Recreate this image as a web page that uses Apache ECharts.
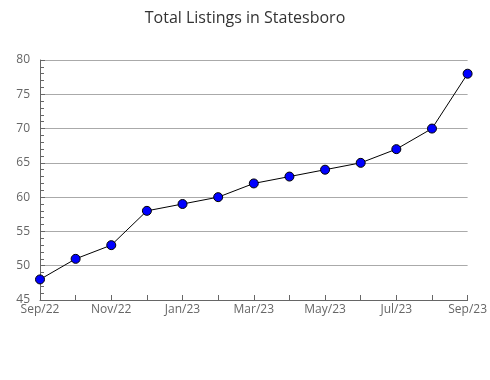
<!DOCTYPE html>
<html><head><meta charset="utf-8">
<script src="https://cdn.jsdelivr.net/npm/echarts@6/dist/echarts.min.js"></script>
<style>html,body{margin:0;padding:0;background:#fff}#c{width:490px;height:380px}</style>
</head><body><div id="c"></div>
<script>
const categories = ['Sep/22','Oct/22','Nov/22','Dec/22','Jan/23','Feb/23','Mar/23','Apr/23','May/23','Jun/23','Jul/23','Aug/23','Sep/23'];
const listings = [48, 51, 53, 58, 59, 60, 62, 63, 64, 65, 67, 70, 78];
const chart = echarts.init(document.getElementById('c'));
chart.setOption({
  animation: false,
  title: { text: 'Total Listings in Statesboro', left: 'center', top: 5,
    textStyle: { fontFamily: 'Open Sans', fontSize: 16, fontWeight: 'normal', color: '#333' } },
  grid: { left: 40, right: 19, top: 60, bottom: 80, containLabel: false },
  xAxis: {
    type: 'category', data: categories, boundaryGap: false,
    axisLine: { lineStyle: { color: '#666', width: 1 } },
    axisTick: { show: true, inside: true, length: 5, interval: 0, lineStyle: { color: '#666' } },
    axisLabel: { interval: 1, color: '#666', fontFamily: 'Open Sans', fontSize: 12, margin: 4 },
    splitLine: { show: false }
  },
  yAxis: {
    type: 'value', min: 45, max: 80, interval: 5,
    axisLine: { show: true, lineStyle: { color: '#666', width: 1 } },
    axisTick: { show: true, inside: true, length: 5, lineStyle: { color: '#666' } },
    minorTick: { show: true, splitNumber: 5, length: 4, lineStyle: { color: '#666' } },
    axisLabel: { color: '#666', fontFamily: 'Open Sans', fontSize: 12, margin: 10 },
    splitLine: { lineStyle: { color: '#aaa', width: 1 } }
  },
  series: [{
    type: 'line', data: listings, symbol: 'circle', symbolSize: 9,
    lineStyle: { color: '#000', width: 1 },
    itemStyle: { color: '#0000ff', borderColor: '#000', borderWidth: 1 }
  }]
});
</script></body></html>
